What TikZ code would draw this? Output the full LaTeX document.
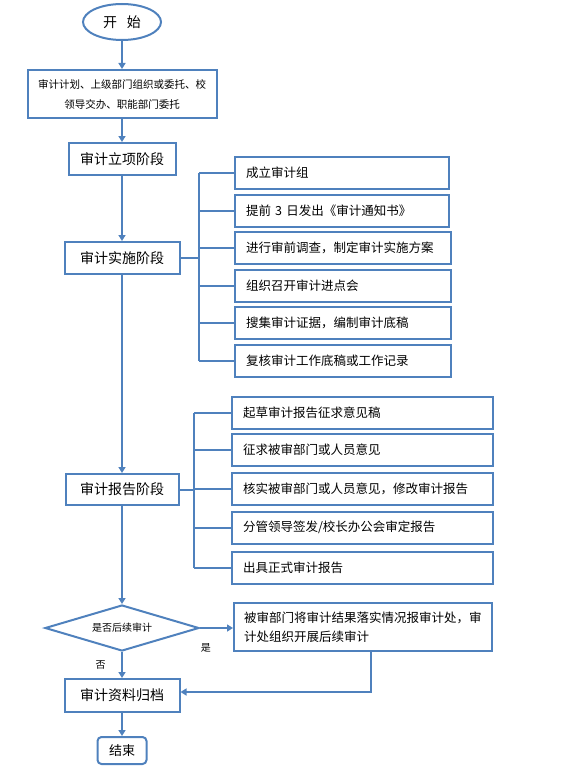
\documentclass[tikz,border=0pt]{standalone}
\usepackage{fontspec}
\setmainfont{Noto Sans CJK SC}
\usepackage{xcolor}
\usepackage{tikz}
\usetikzlibrary{arrows.meta,calc,positioning,shapes.geometric}
\definecolor{lineblue}{HTML}{4F81BD}

\begin{document}
\begin{tikzpicture}[x=1pt,y=-1pt,
  box/.style={draw=lineblue,line width=2pt,rectangle,inner sep=0pt,align=center,font=\fontsize{14}{16}\selectfont},
  subbox/.style={draw=lineblue,line width=2pt,rectangle,anchor=west,inner xsep=11pt,inner ysep=0pt,minimum height=32pt,align=left,font=\fontsize{12.5}{19}\selectfont},
  flow/.style={draw=lineblue,line width=2pt,-{Triangle[length=6pt,width=7pt]}},
  link/.style={draw=lineblue,line width=2pt},
  tag/.style={font=\fontsize{10}{12}\selectfont}]
  \useasboundingbox (0,0) rectangle (568,776);
  \node[ellipse,draw=lineblue,line width=2pt,minimum width=78pt,minimum height=36pt,inner sep=0pt,font=\fontsize{14}{16}\selectfont] (start) at (122,22) {开\hspace{10pt}始};
  \node[box,minimum width=189pt,minimum height=48pt,font=\fontsize{10.5}{20}\selectfont] (source) at (122,94) {审计计划、上级部门组织或委托、校\\领导交办、职能部门委托};
  \node[box,minimum width=107pt,minimum height=32pt] (setup) at (122,159) {审计立项阶段};
  \node[box,minimum width=115pt,minimum height=32pt] (impl) at (122,258) {审计实施阶段};
  \node[box,minimum width=113pt,minimum height=31pt] (report) at (122,489.5) {审计报告阶段};
  \node[diamond,draw=lineblue,line width=2pt,aspect=3.3,inner sep=0pt,minimum width=154pt,minimum height=46pt,font=\fontsize{10}{12}\selectfont] (decide) at (122,628) {是否后续审计};
  \node[subbox,text width=238pt,minimum height=48pt,inner xsep=10pt] (follow) at (233,627) {被审部门将审计结果落实情况报审计处，审\\计处组织开展后续审计};
  \node[box,minimum width=115pt,minimum height=33pt] (archive) at (122,695.5) {审计资料归档};
  \node[box,rounded corners=4pt,minimum width=49pt,minimum height=27pt,font=\fontsize{13}{15}\selectfont] (finish) at (122,750.5) {结束};

  \node[subbox,text width=192pt] (a1) at (234,173) {成立审计组};
  \node[subbox,text width=192pt] (a2) at (234,211) {提前 3 日发出《审计通知书》};
  \node[subbox,text width=194pt] (a3) at (234,248) {进行审前调查，制定审计实施方案};
  \node[subbox,text width=194pt] (a4) at (234,285.5) {组织召开审计进点会};
  \node[subbox,text width=194pt] (a5) at (234,323) {搜集审计证据，编制审计底稿};
  \node[subbox,text width=194pt] (a6) at (234,361) {复核审计工作底稿或工作记录};

  \node[subbox,text width=239pt] (b1) at (231,413) {起草审计报告征求意见稿};
  \node[subbox,text width=239pt] (b2) at (231,449.5) {征求被审部门或人员意见};
  \node[subbox,text width=239pt] (b3) at (231,488.5) {核实被审部门或人员意见，修改审计报告};
  \node[subbox,text width=239pt] (b4) at (231,527.5) {分管领导签发/校长办公会审定报告};
  \node[subbox,text width=239pt] (b5) at (231,567.5) {出具正式审计报告};

  \coordinate (trunkA) at (199,258);
  \coordinate (trunkB) at (194,489.5);
  \coordinate (back) at (371,692);

  \draw[flow] (start) -- (source);
  \draw[flow] (source) -- (setup);
  \draw[flow] (setup) -- (impl);
  \draw[flow] (impl) -- (report);
  \draw[flow] (report) -- (decide);
  \draw[flow] (decide) -- node[tag,midway,left=12pt] {否} (archive);
  \draw[flow] (archive) -- (finish);
  \draw[flow] (decide.east) -- node[tag,pos=0.18,below=11pt] {是} (decide.east -| follow.west);
  \draw[flow] (follow.south -| back) -- (back) -- (back -| archive.east);

  \draw[link] (impl.east) -- (trunkA);
  \draw[link] (trunkA |- a1.west) -- (trunkA |- a6.west);
  \foreach \i in {1,...,6}
    \draw[link] (trunkA |- a\i.west) -- (a\i.west);
  \draw[link] (report.east) -- (trunkB);
  \draw[link] (trunkB |- b1.west) -- (trunkB |- b5.west);
  \foreach \i in {1,...,5}
    \draw[link] (trunkB |- b\i.west) -- (b\i.west);
\end{tikzpicture}
\end{document}
